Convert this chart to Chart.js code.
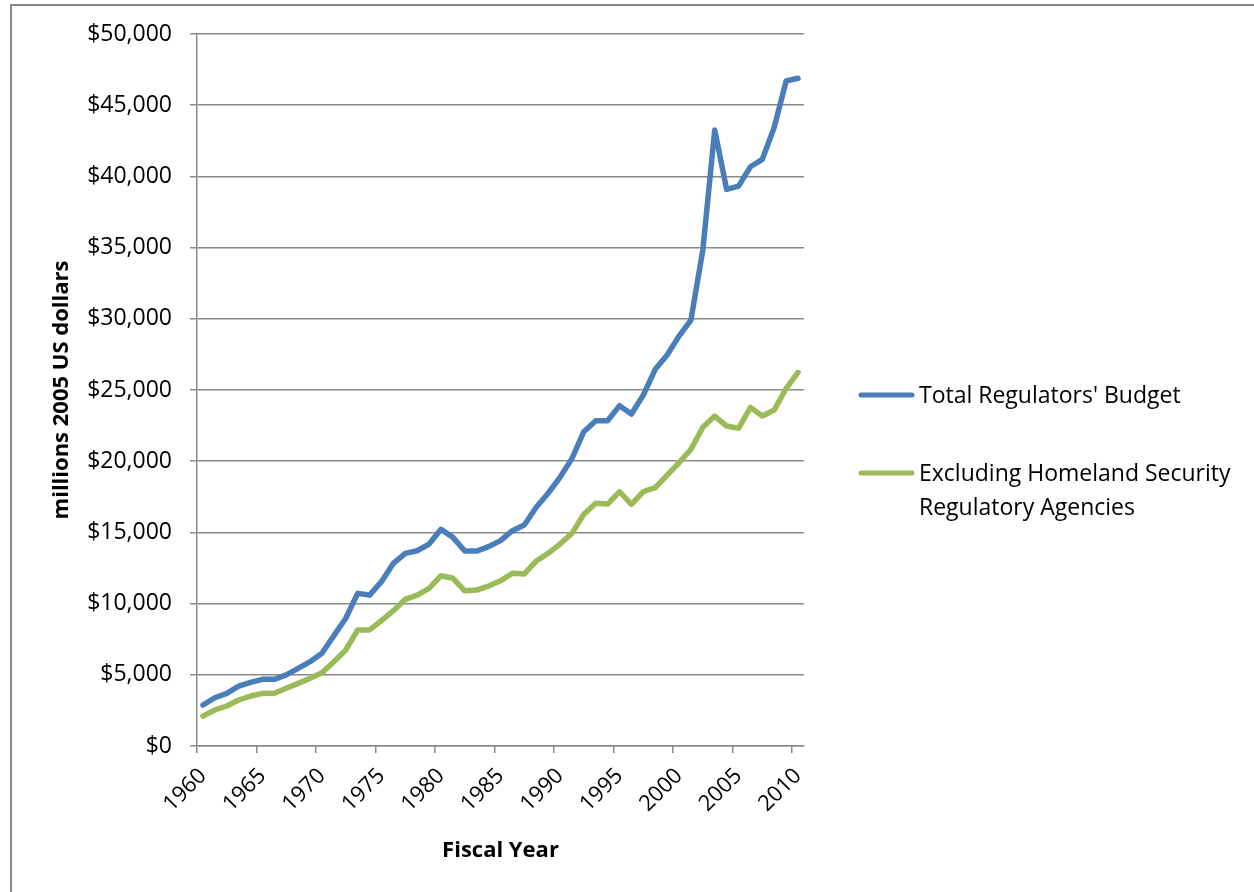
<!DOCTYPE html>
<html>
<head>
<meta charset="utf-8">
<script src="https://cdn.jsdelivr.net/npm/chart.js@4.4.1/dist/chart.umd.min.js"></script>
<style>
    html, body { margin: 0; padding: 0; background: #fff; overflow: hidden; }
    #frame { position: absolute; left: 10px; top: 4px; width: 1400px; height: 1000px; border: 2px solid #8c8c8c; }
    #wrap { position: absolute; left: 0; top: 0; width: 1254px; height: 892px; }
</style>
</head>
<body>
<div id="frame"></div>
<div id="wrap"><canvas id="budgetChart"></canvas></div>
<script>
// Fiscal years (categories)
const years = [
    1960, 1961, 1962, 1963, 1964, 1965, 1966, 1967, 1968, 1969,
    1970, 1971, 1972, 1973, 1974, 1975, 1976, 1977, 1978, 1979,
    1980, 1981, 1982, 1983, 1984, 1985, 1986, 1987, 1988, 1989,
    1990, 1991, 1992, 1993, 1994, 1995, 1996, 1997, 1998, 1999,
    2000, 2001, 2002, 2003, 2004, 2005, 2006, 2007, 2008, 2009,
    2010
];

// Total Regulators' Budget (millions 2005 US dollars)
const totalBudget = [
    2880, 3390, 3700, 4210, 4470, 4680, 4680, 4990, 5450, 5920,
    6510, 7750, 8970, 10720, 10600, 11540, 12830, 13530, 13710, 14180,
    15220, 14650, 13690, 13690, 14000, 14420, 15120, 15520, 16760, 17750,
    18870, 20180, 22070, 22840, 22840, 23900, 23310, 24650, 26450, 27460,
    28790, 29910, 34830, 43260, 39090, 39320, 40680, 41200, 43450, 46700,
    46890
];

// Excluding Homeland Security Regulatory Agencies
const excludingHomeland = [
    2100, 2530, 2810, 3230, 3510, 3700, 3700, 4050, 4400, 4750,
    5150, 5920, 6740, 8150, 8150, 8800, 9500, 10300, 10600, 11070,
    11960, 11780, 10900, 10950, 11230, 11600, 12130, 12080, 12990, 13530,
    14180, 14930, 16270, 17040, 16990, 17860, 16970, 17860, 18140, 19030,
    19890, 20830, 22380, 23170, 22470, 22310, 23780, 23170, 23590, 25120,
    26240
];

// Axis ticks
const yearLabels = [1960, 1965, 1970, 1975, 1980, 1985, 1990, 1995, 2000, 2005, 2010];
const yTicks = [0, 5000, 10000, 15000, 20000, 25000, 30000, 35000, 40000, 45000, 50000];

const seriesNames = [
    ["Total Regulators' Budget"],
    ['Excluding Homeland Security', 'Regulatory Agencies']
];

const GRAY = '#8a8a8a';
const FONT = "'Open Sans', 'Noto Sans', sans-serif";

// Legend drawn at the right, with line samples and wrapped text
const sideLegend = {
    id: 'sideLegend',
    afterDraw(chart) {
        const { ctx, chartArea } = chart;
        const rows = [361, 439];
        ctx.save();
        ctx.font = '23px ' + FONT;
        ctx.textBaseline = 'middle';
        ctx.textAlign = 'left';
        chart.data.datasets.forEach((ds, i) => {
            const y = chartArea.top + rows[i];
            const x0 = chartArea.right + 57;
            ctx.strokeStyle = ds.borderColor;
            ctx.lineWidth = 5;
            ctx.lineCap = 'round';
            ctx.beginPath();
            ctx.moveTo(x0, y);
            ctx.lineTo(x0 + 51, y);
            ctx.stroke();
            ctx.fillStyle = '#000';
            seriesNames[i].forEach((line, j) => {
                ctx.fillText(line, x0 + 58, y + 1 + j * 34);
            });
        });
        ctx.restore();
    }
};

new Chart(document.getElementById('budgetChart'), {
    type: 'line',
    data: {
        labels: years,
        datasets: [{
            label: seriesNames[0].join(' '),
            data: totalBudget,
            borderColor: '#4a7ebb',
            borderWidth: 5.5,
            pointRadius: 0,
            tension: 0,
            borderJoinStyle: 'round',
            borderCapStyle: 'round'
        }, {
            label: seriesNames[1].join(' '),
            data: excludingHomeland,
            borderColor: '#9bbb59',
            borderWidth: 5.5,
            pointRadius: 0,
            tension: 0,
            borderJoinStyle: 'round',
            borderCapStyle: 'round'
        }]
    },
    options: {
        responsive: true,
        maintainAspectRatio: false,
        animation: false,
        layout: {
            padding: { left: 38, top: 34, right: 450, bottom: 0 }
        },
        plugins: {
            legend: { display: false },
            tooltip: { enabled: false }
        },
        scales: {
            x: {
                type: 'category',
                offset: true,
                afterFit: (s) => { s.height = 146; },
                grid: {
                    offset: true,
                    drawOnChartArea: false,
                    drawTicks: true,
                    tickLength: 7,
                    lineWidth: 1.5,
                    color: (c) => (c.index % 5 === 0 ? GRAY : 'rgba(0,0,0,0)')
                },
                border: { display: true, color: GRAY, width: 1.5 },
                ticks: {
                    autoSkip: false,
                    maxRotation: 45,
                    minRotation: 45,
                    padding: 10,
                    color: '#000',
                    font: { family: FONT, size: 22 },
                    callback: function (value) {
                        const yr = this.getLabelForValue(value);
                        return yearLabels.includes(yr) ? String(yr) : '';
                    }
                },
                title: {
                    display: true,
                    text: 'Fiscal Year',
                    color: '#000',
                    font: { family: FONT, size: 22, weight: 'bold' },
                    padding: { top: 0, bottom: 28 }
                }
            },
            y: {
                min: 0,
                max: 50000,
                afterFit: (s) => { s.width = 159; },
                afterBuildTicks: (s) => { s.ticks = yTicks.map(v => ({ value: v })); },
                grid: {
                    color: GRAY,
                    lineWidth: 1.5,
                    tickLength: 7
                },
                border: { display: true, color: GRAY, width: 1.5 },
                ticks: {
                    padding: 18,
                    color: '#000',
                    font: { family: FONT, size: 23 },
                    callback: (v) => '$' + v.toLocaleString('en-US')
                },
                title: {
                    display: true,
                    text: 'millions 2005 US dollars',
                    color: '#000',
                    font: { family: FONT, size: 22, weight: 'bold' },
                    padding: { top: 11, bottom: 0 }
                }
            }
        }
    },
    plugins: [sideLegend]
});
</script>
</body>
</html>
